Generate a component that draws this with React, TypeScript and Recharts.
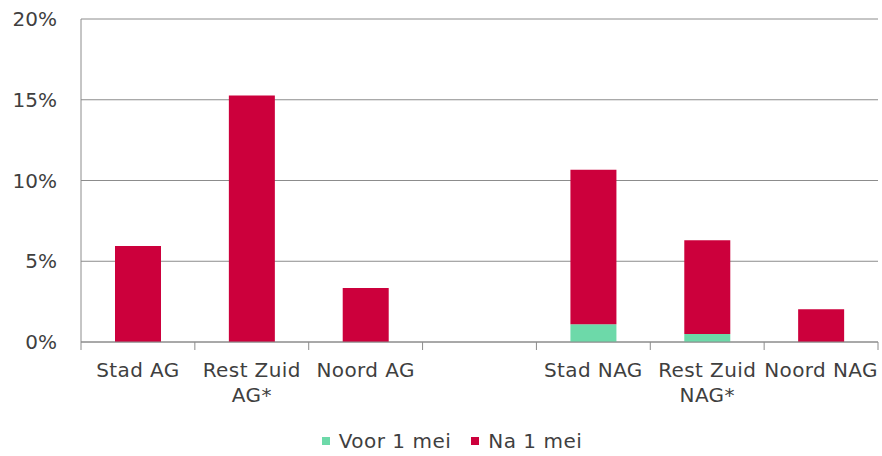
import React from 'react';
import { BarChart, Bar, XAxis, YAxis, CartesianGrid, Legend } from 'recharts';

const categories = ['Stad AG', 'Rest Zuid\nAG*', 'Noord AG', '', 'Stad NAG', 'Rest Zuid\nNAG*', 'Noord NAG'];
const voor1mei = [0, 0, 0, null, 1.1, 0.5, 0];
const na1mei = [5.95, 15.26, 3.34, null, 9.56, 5.8, 2.03];
const yTicks = [0, 5, 10, 15, 20];

const data = categories.map((c, i) => ({ cat: c, voor: voor1mei[i], na: na1mei[i] }));

const W = 882;
const H = 456;
const LEFT = 81;
const RIGHT = 4;
const HB = (W - RIGHT - LEFT) / categories.length / 2;
const FONT = "'DejaVu Sans', Verdana, sans-serif";
const TEXT = '#3f3f3f';
const GRID = '#8c8c8c';
const GREEN = '#6dd9a9';
const RED = '#cc003c';

function XTick(props: any) {
  const { x, y, payload, index } = props;
  const lines = String(payload.value).split('\n');
  return (
    <g>
      {index === 0 && <line x1={x - HB} x2={x - HB} y1={y} y2={y + 8} stroke={GRID} strokeWidth={1} />}
      <line x1={x + HB} x2={x + HB} y1={y} y2={y + 8} stroke={GRID} strokeWidth={1} />
      <text textAnchor="middle" fill={TEXT} fontSize={20} fontFamily={FONT} letterSpacing={0.4}>
        {lines.map((l, i) => (
          <tspan key={i} x={x} y={y + 35 + i * 25}>{l}</tspan>
        ))}
      </text>
    </g>
  );
}

function LegendContent() {
  const items = [
    { label: 'Voor 1 mei', color: GREEN },
    { label: 'Na 1 mei', color: RED },
  ];
  return (
    <div style={{ display: 'flex', justifyContent: 'center', alignItems: 'center', height: 34, paddingTop: 4, paddingLeft: 26, boxSizing: 'border-box', fontFamily: FONT, fontSize: 20, color: TEXT, letterSpacing: 0.5 }}>
      {items.map((it, i) => (
        <div key={i} style={{ display: 'flex', alignItems: 'center', marginLeft: i === 0 ? 0 : 20 }}>
          <span style={{ display: 'inline-block', width: 8, height: 8, background: it.color, marginRight: 9 }} />
          <span>{it.label}</span>
        </div>
      ))}
    </div>
  );
}

export default function App() {
  return (
    <div style={{ position: 'absolute', left: 0, top: 0, width: W, height: H, background: '#fff' }}>
      <BarChart width={W} height={H} data={data} margin={{ top: 19, right: RIGHT, left: 0, bottom: 0 }} barSize={46}>
        <CartesianGrid vertical={false} stroke={GRID} strokeWidth={1} />
        <XAxis
          dataKey="cat"
          height={80}
          axisLine={{ stroke: GRID }}
          tickLine={false}
          tickSize={0}
          tickMargin={0}
          interval={0}
          tick={<XTick />}
        />
        <YAxis
          width={LEFT}
          domain={[0, 20]}
          ticks={yTicks}
          tickFormatter={(v: number) => `${v}%`}
          axisLine={{ stroke: GRID }}
          tickLine={false}
          tickMargin={18}
          tick={{ fill: TEXT, fontSize: 20, fontFamily: FONT }}
        />
        <Legend verticalAlign="bottom" height={34} content={<LegendContent />} />
        <Bar dataKey="voor" stackId="a" fill={GREEN} isAnimationActive={false} />
        <Bar dataKey="na" stackId="a" fill={RED} isAnimationActive={false} />
      </BarChart>
    </div>
  );
}
